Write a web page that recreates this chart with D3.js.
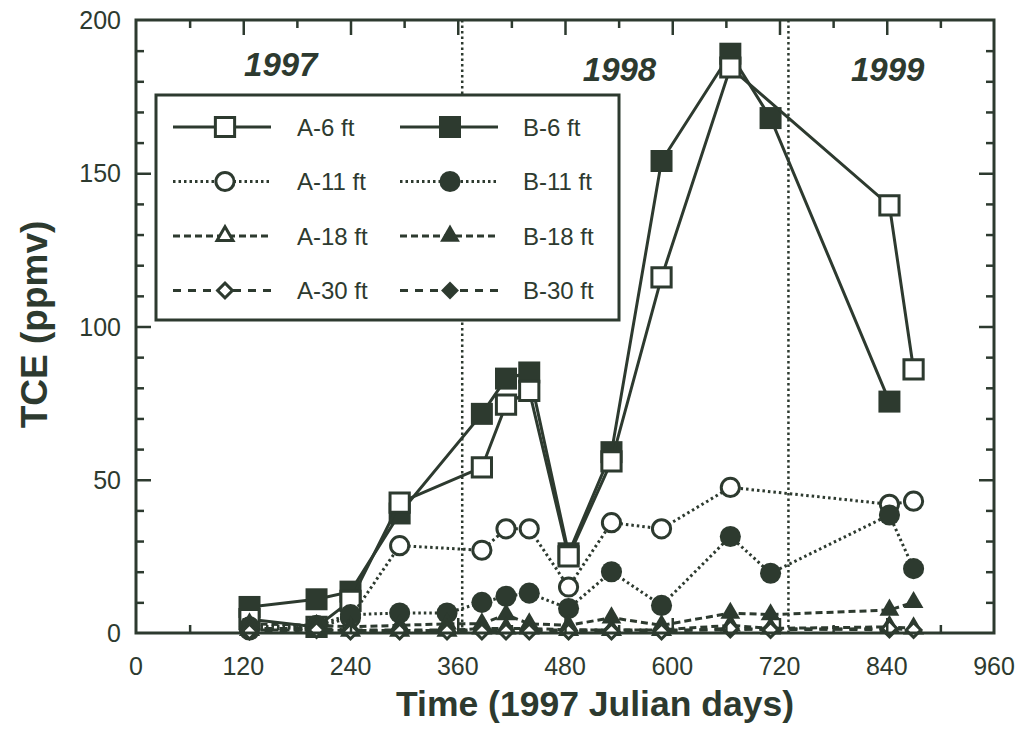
<!DOCTYPE html>
<html>
<head>
<meta charset="utf-8">
<script src="https://cdn.jsdelivr.net/npm/d3@7"></script>
<style>
  body { margin: 0; background: #fff; }
  text { font-family: "Liberation Sans", Arial, sans-serif; fill: #2d3a2f; }
</style>
</head>
<body>
<div id="chart"></div>
<script>
// sampling days (1997 Julian days)
const days = [127, 202, 240, 295, 348, 387, 414, 440, 484, 532, 588, 665, 710, 843, 870];

// TCE (ppmv), null = not sampled
const a6  = [4.5, 2, 10.5, 42.5, null, 54, 74.5, 79, 25, 56, 116, 184.5, null, 139.5, 86];
const b6  = [8.5, 11, 13.5, 39, null, 71.5, 83, 85, 26, 59, 154, 189, 168, 75.5, null];
const a11 = [1, 2, 5, 28.5, null, 27, 34, 34, 15, 36, 34, 47.5, null, 42, 43];
const b11 = [2, 2.5, 6, 6.5, 6.5, 10, 12, 13, 8, 20, 9, 31.5, 19.5, 38.5, 21];
const a18 = [1, 1, 0.8, 0.8, 0.8, 1.5, 1.5, 1.5, 1, 1, 1, 2.5, 1.5, 2, 1.5];
const b18 = [3, 2.5, 2, 2.5, 3, 3, 6, 3, 2.5, 5, 2.5, 6.5, 6, 7.5, 10];
const a30 = [0.5, 1, 0.5, 0.5, 0.5, 0.5, 0.5, 0.5, 0.5, 0.5, 0.5, 1.5, 1, 1.5, 1];
const b30 = [1.5, 1.5, 1, 1, 1, 1, 1, 1, 1, 1, 1, 1, 1.5, 1, null];

const xTicks = [0, 120, 240, 360, 480, 600, 720, 840, 960];
const yTicks = [0, 50, 100, 150, 200];
const yearBreaks = [365, 730];
const yearLabels = [{ t: "1997", d: 162, base: 76 }, { t: "1998", d: 541, base: 81 }, { t: "1999", d: 841, base: 81 }];

const ink = "#2d3a2f";
const w = 1020, h = 739;
const mLeft = 136, mRight = 994, mTop = 20, mBottom = 633;

const x = d3.scaleLinear().domain([0, 960]).range([mLeft, mRight]);
const y = d3.scaleLinear().domain([0, 200]).range([mBottom, mTop]);

const svg = d3.select("#chart").append("svg")
  .attr("width", w).attr("height", h);

// series styles
const solid = null, dotted = "2.5,3", dashA = "7,4", dashB = "8,7";
const series = [
  { name: "B-6 ft",  v: b6,  shape: "square",  fill: true,  dash: solid },
  { name: "A-6 ft",  v: a6,  shape: "square",  fill: false, dash: solid },
  { name: "A-11 ft", v: a11, shape: "circle",  fill: false, dash: dotted },
  { name: "B-11 ft", v: b11, shape: "circle",  fill: true,  dash: dotted },
  { name: "B-18 ft", v: b18, shape: "triangle", fill: true, dash: dashA },
  { name: "A-18 ft", v: a18, shape: "triangle", fill: false, dash: dashA },
  { name: "B-30 ft", v: b30, shape: "diamond", fill: true,  dash: dashB },
  { name: "A-30 ft", v: a30, shape: "diamond", fill: false, dash: dashB }
];

function symbolPath(shape, fill) {
  if (shape === "square") return d3.symbol(d3.symbolSquare, fill ? 484 : 370)();
  if (shape === "circle") return d3.symbol(d3.symbolCircle, fill ? 350 : 260)();
  if (shape === "triangle") return d3.symbol(d3.symbolTriangle, fill ? 170 : 110)();
  return d3.symbol(d3.symbolSquare, fill ? 160 : 110)();
}
function drawMarker(g, shape, fill, cx, cy) {
  g.append("path")
    .attr("d", symbolPath(shape, fill))
    .attr("transform", `translate(${cx},${cy})` + (shape === "diamond" ? " rotate(45)" : ""))
    .attr("fill", fill ? ink : "#fff")
    .attr("stroke", ink)
    .attr("stroke-width", fill ? 0 : 3);
}

// year boundaries
yearBreaks.forEach(d => {
  svg.append("line")
    .attr("x1", x(d)).attr("x2", x(d))
    .attr("y1", y(0)).attr("y2", y(200))
    .attr("stroke", ink).attr("stroke-width", 2.5).attr("stroke-dasharray", "2.5,3");
});

// series
const line = d3.line()
  .x(d => x(d[0])).y(d => y(d[1]));

series.forEach(s => {
  const pts = days.map((d, i) => [d, s.v[i]]).filter(p => p[1] !== null);
  const g = svg.append("g");
  g.append("path")
    .attr("d", line(pts))
    .attr("fill", "none")
    .attr("stroke", ink)
    .attr("stroke-width", 3)
    .attr("stroke-dasharray", s.dash);
  pts.forEach(p => drawMarker(g, s.shape, s.fill, x(p[0]), y(p[1])));
});

// frame
svg.append("rect")
  .attr("x", mLeft).attr("y", mTop)
  .attr("width", mRight - mLeft).attr("height", mBottom - mTop)
  .attr("fill", "none").attr("stroke", ink).attr("stroke-width", 3);

// axes with inward ticks
const axB = svg.append("g").attr("transform", `translate(0,${mBottom})`)
  .call(d3.axisTop(x).tickValues(d3.range(60, 960, 60)).tickSize(8).tickFormat(""));
const axT = svg.append("g").attr("transform", `translate(0,${mTop})`)
  .call(d3.axisBottom(x).tickValues(d3.range(60, 960, 60)).tickSize(8).tickFormat(""));
const axL = svg.append("g").attr("transform", `translate(${mLeft},0)`)
  .call(d3.axisRight(y).tickValues(d3.range(10, 200, 10)).tickSize(8).tickFormat(""));
const axR = svg.append("g").attr("transform", `translate(${mRight},0)`)
  .call(d3.axisLeft(y).tickValues(d3.range(10, 200, 10)).tickSize(8).tickFormat(""));
[axB, axT, axL, axR].forEach(a => {
  a.select(".domain").remove();
  a.selectAll(".tick line").attr("stroke", ink).attr("stroke-width", 2.5);
});
// longer major ticks
axB.selectAll(".tick").filter(d => d % 120 === 0).select("line").attr("y2", -15);
axT.selectAll(".tick").filter(d => d % 120 === 0).select("line").attr("y2", 15);
axL.selectAll(".tick").filter(d => d % 50 === 0).select("line").attr("x2", 15);
axR.selectAll(".tick").filter(d => d % 50 === 0).select("line").attr("x2", -15);

// tick labels
svg.append("g").selectAll("text")
  .data(xTicks).join("text")
  .attr("x", d => x(d)).attr("y", 675)
  .attr("text-anchor", "middle")
  .attr("font-size", 25)
  .text(d => d);
svg.append("g").selectAll("text")
  .data(yTicks).join("text")
  .attr("x", 121).attr("y", d => y(d))
  .attr("dy", "0.36em")
  .attr("text-anchor", "end")
  .attr("font-size", 25)
  .text(d => d);

// axis titles
svg.append("text")
  .attr("x", x(480) + 30).attr("y", 716)
  .attr("text-anchor", "middle")
  .attr("font-size", 35.5).attr("font-weight", "bold")
  .text("Time (1997 Julian days)");
svg.append("text")
  .attr("transform", `translate(47,${y(100) - 2}) rotate(-90)`)
  .attr("text-anchor", "middle")
  .attr("font-size", 37).attr("font-weight", "bold")
  .text("TCE (ppmv)");

// year labels
svg.append("g").selectAll("text")
  .data(yearLabels).join("text")
  .attr("x", d => x(d.d)).attr("y", d => d.base)
  .attr("text-anchor", "middle")
  .attr("font-size", 33).attr("font-weight", "bold").attr("font-style", "italic")
  .text(d => d.t);

// legend
const legend = svg.append("g");
legend.append("rect")
  .attr("x", 156).attr("y", 95).attr("width", 463).attr("height", 225)
  .attr("fill", "#fff").attr("stroke", ink).attr("stroke-width", 3);
const legRows = [
  ["A-6 ft", "B-6 ft"], ["A-11 ft", "B-11 ft"], ["A-18 ft", "B-18 ft"], ["A-30 ft", "B-30 ft"]
];
legRows.forEach((row, r) => {
  const cy = 127 + r * 54.5;
  row.forEach((name, c) => {
    const s = series.find(q => q.name === name);
    const x0 = c === 0 ? 173 : 400, cx = c === 0 ? 225 : 450;
    legend.append("line")
      .attr("x1", x0).attr("x2", x0 + 98).attr("y1", cy).attr("y2", cy)
      .attr("stroke", ink).attr("stroke-width", 3)
      .attr("stroke-dasharray", s.dash);
    drawMarker(legend, s.shape, s.fill, cx, cy);
    legend.append("text")
      .attr("x", c === 0 ? 297 : 523).attr("y", cy)
      .attr("dy", "0.36em")
      .attr("font-size", 24)
      .text(name);
  });
});
</script>
</body>
</html>
